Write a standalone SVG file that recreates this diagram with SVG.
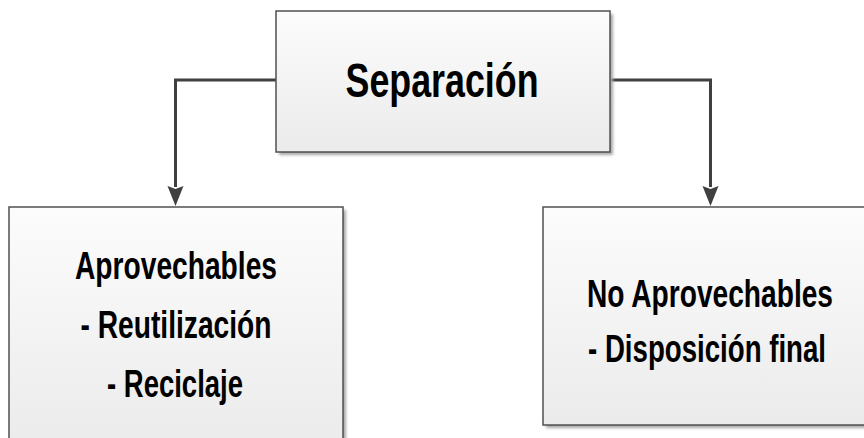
<svg xmlns="http://www.w3.org/2000/svg" width="864" height="438" viewBox="0 0 864 438">
  <defs>
    <linearGradient id="boxFill" x1="0" y1="0" x2="0" y2="1">
      <stop offset="0" stop-color="#fcfcfc"/>
      <stop offset="1" stop-color="#ebebeb"/>
    </linearGradient>
    <filter id="shadowBlur" x="-10%" y="-10%" width="120%" height="120%">
      <feGaussianBlur stdDeviation="1.5"/>
    </filter>
    <marker id="arrow" viewBox="0 0 16 20" refX="8" refY="20" markerWidth="16" markerHeight="20" markerUnits="userSpaceOnUse" orient="auto-start-reverse">
      <path d="M0,0 L8,3 L16,0 L8,20 Z" fill="#404040"/>
    </marker>
  </defs>
  <style>
    .shadow { fill: #a8a8a8; filter: url(#shadowBlur); }
    .box { fill: url(#boxFill); stroke: #505050; stroke-width: 1.5; }
    .label { font-family: "Liberation Sans", Arial, sans-serif; font-weight: bold; fill: #000; text-anchor: middle; }
    .big { font-size: 49px; }
    .mid { font-size: 38px; }
    .conn { fill: none; stroke: #404040; stroke-width: 3; }
  </style>
  <rect width="864" height="438" fill="#ffffff"/>

  <g id="connectors">
    <path class="conn" d="M276,80 H175.5 V187"/>
    <path d="M167.5,186 L175.5,189 L183.5,186 L175.5,206 Z" fill="#404040"/>
    <path class="conn" d="M610,80 H710.5 V187"/>
    <path d="M702.5,186 L710.5,189 L718.5,186 L710.5,206 Z" fill="#404040"/>
  </g>

  <g id="separacion">
    <rect class="shadow" x="279" y="14" width="334" height="141"/>
    <rect class="box" x="276" y="11" width="334" height="141"/>
    <text class="label big" x="442" y="97" textLength="193" lengthAdjust="spacingAndGlyphs">Separación</text>
  </g>

  <g id="aprovechables">
    <rect class="shadow" x="12" y="210" width="334" height="240"/>
    <rect class="box" x="9" y="207" width="334" height="240"/>
    <text class="label mid" x="176" y="279" textLength="202" lengthAdjust="spacingAndGlyphs">Aprovechables</text>
    <text class="label mid" x="176" y="338" textLength="191" lengthAdjust="spacingAndGlyphs">- Reutilización</text>
    <text class="label mid" x="175" y="397" textLength="136" lengthAdjust="spacingAndGlyphs">- Reciclaje</text>
  </g>

  <g id="no-aprovechables">
    <rect class="shadow" x="546" y="210" width="334" height="218"/>
    <rect class="box" x="543" y="207" width="334" height="218"/>
    <text class="label mid" x="710" y="307" textLength="246" lengthAdjust="spacingAndGlyphs">No Aprovechables</text>
    <text class="label mid" x="707" y="362" textLength="238" lengthAdjust="spacingAndGlyphs">- Disposición final</text>
  </g>
</svg>
